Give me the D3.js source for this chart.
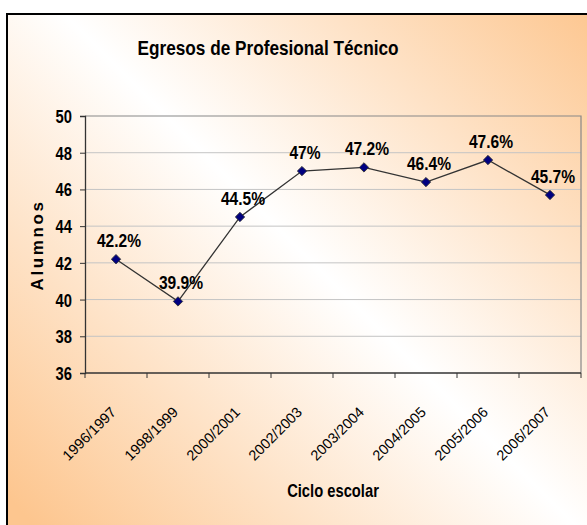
<!DOCTYPE html>
<html lang="es">
<head>
    <meta charset="UTF-8">
    <title>Egresos de Profesional Técnico</title>
    <script src="https://d3js.org/d3.v7.min.js"></script>
    <style>
        body { margin: 0; background: #fff; }
        .narrow { font-family: "Liberation Sans", Arial, sans-serif; font-weight: bold; fill: #000; }
        .tick-x { font-family: "Liberation Sans", Arial, sans-serif; font-size: 14.5px; fill: #000; }
    </style>
</head>
<body>
    <svg id="chart"></svg>

    <script>
        // Data
        const ciclos = ["1996/1997", "1998/1999", "2000/2001", "2002/2003", "2003/2004", "2004/2005", "2005/2006", "2006/2007"];
        const valores = [42.2, 39.9, 44.5, 47, 47.2, 46.4, 47.6, 45.7];
        const etiquetas = ["42.2%", "39.9%", "44.5%", "47%", "47.2%", "46.4%", "47.6%", "45.7%"];
        const yTicks = [36, 38, 40, 42, 44, 46, 48, 50];

        const width = 587, height = 525;
        const plot = { left: 85, right: 581, top: 116, bottom: 373 };
        const sx = 0.82; // fake "Arial Narrow" by squeezing Liberation Sans

        const svg = d3.select("#chart")
            .attr("width", width)
            .attr("height", height);

        // background gradient (orange - white - orange, diagonal)
        const grad = svg.append("defs").append("linearGradient")
            .attr("id", "bg")
            .attr("gradientUnits", "userSpaceOnUse")
            .attr("x1", 30).attr("y1", 520)
            .attr("x2", 570).attr("y2", -20);
        grad.append("stop").attr("offset", "0%").attr("stop-color", "#fdc68f");
        grad.append("stop").attr("offset", "50%").attr("stop-color", "#ffffff");
        grad.append("stop").attr("offset", "100%").attr("stop-color", "#fdc68f");

        svg.append("rect")
            .attr("x", 7).attr("y", 14)
            .attr("width", width + 10).attr("height", height + 10)
            .attr("fill", "url(#bg)")
            .attr("stroke", "#000")
            .attr("stroke-width", 2);

        // scales
        const x = d3.scaleBand().domain(ciclos).range([plot.left, plot.right]);
        const y = d3.scaleLinear().domain([36, 50]).range([plot.bottom, plot.top]);

        // gridlines
        svg.append("g")
            .selectAll("line")
            .data(yTicks.filter(d => d > 36 && d < 50))
            .join("line")
            .attr("x1", plot.left).attr("x2", plot.right)
            .attr("y1", d => y(d)).attr("y2", d => y(d))
            .attr("stroke", "#c4c4c4")
            .attr("stroke-width", 1);

        // plot border (top / right)
        svg.append("path")
            .attr("d", `M${plot.left},${plot.top}H${plot.right}V${plot.bottom}`)
            .attr("fill", "none")
            .attr("stroke", "#888")
            .attr("stroke-width", 1.2);

        // y axis
        const yAxis = svg.append("g")
            .attr("transform", `translate(${plot.left},0)`)
            .call(d3.axisLeft(y).tickValues(yTicks).tickSize(5).tickPadding(6));
        yAxis.select(".domain").attr("stroke", "#333").attr("stroke-width", 1.3);
        yAxis.selectAll(".tick line").attr("stroke", "#333");
        yAxis.selectAll("text")
            .attr("class", "narrow")
            .style("font-size", "18px")
            .attr("x", -13 / sx)
            .attr("dy", "0.36em")
            .attr("transform", `scale(${sx},1)`);

        // x axis (ticks at category boundaries)
        const xAxis = svg.append("g")
            .attr("transform", `translate(0,${plot.bottom})`);
        xAxis.append("line")
            .attr("x1", plot.left).attr("x2", plot.right)
            .attr("stroke", "#333").attr("stroke-width", 1.3);
        const bounds = ciclos.map(c => x(c)).concat([x(ciclos[ciclos.length - 1]) + x.bandwidth()]);
        xAxis.selectAll(".xt")
            .data(bounds)
            .join("line")
            .attr("x1", d => d).attr("x2", d => d)
            .attr("y1", 0).attr("y2", 5)
            .attr("stroke", "#333");
        xAxis.selectAll("text")
            .data(ciclos)
            .join("text")
            .attr("class", "tick-x")
            .attr("text-anchor", "end")
            .attr("transform", d => `translate(${x(d) + x.bandwidth() / 2 + 1},${413 - plot.bottom}) rotate(-45)`)
            .text(d => d);

        // line
        const cx = d => x(d) + x.bandwidth() / 2;
        const line = d3.line()
            .x((d, i) => cx(ciclos[i]))
            .y(d => y(d));

        svg.append("path")
            .datum(valores)
            .attr("d", line)
            .attr("fill", "none")
            .attr("stroke", "#333")
            .attr("stroke-width", 1.3);

        // markers
        svg.append("g")
            .selectAll("path")
            .data(valores)
            .join("path")
            .attr("d", d3.symbol(d3.symbolSquare, 44))
            .attr("transform", (d, i) => `translate(${cx(ciclos[i])},${y(d)}) rotate(45)`)
            .attr("fill", "#000080")
            .attr("stroke", "#333")
            .attr("stroke-width", 0.8);

        // data labels
        svg.append("g")
            .selectAll("text")
            .data(valores)
            .join("text")
            .attr("class", "narrow")
            .style("font-size", "19px")
            .attr("text-anchor", "middle")
            .attr("transform", (d, i) => `translate(${cx(ciclos[i]) + 3},${y(d) - 12}) scale(${sx},1)`)
            .text((d, i) => etiquetas[i]);

        // titles
        svg.append("text")
            .attr("class", "narrow")
            .style("font-size", "21px")
            .attr("text-anchor", "middle")
            .attr("transform", `translate(268,55) scale(${sx},1)`)
            .text("Egresos de Profesional Técnico");

        svg.append("text")
            .attr("class", "narrow")
            .style("font-size", "18px")
            .attr("text-anchor", "middle")
            .attr("transform", `translate(${(plot.left + plot.right) / 2},497) scale(${sx},1)`)
            .text("Ciclo escolar");

        svg.append("text")
            .style("font-family", "'Liberation Sans', Arial, sans-serif")
            .style("font-weight", "bold")
            .style("font-size", "17px")
            .style("letter-spacing", "2.6px")
            .attr("text-anchor", "middle")
            .attr("transform", "translate(43,245) rotate(-90)")
            .text("Alumnos");
    </script>
</body>
</html>
